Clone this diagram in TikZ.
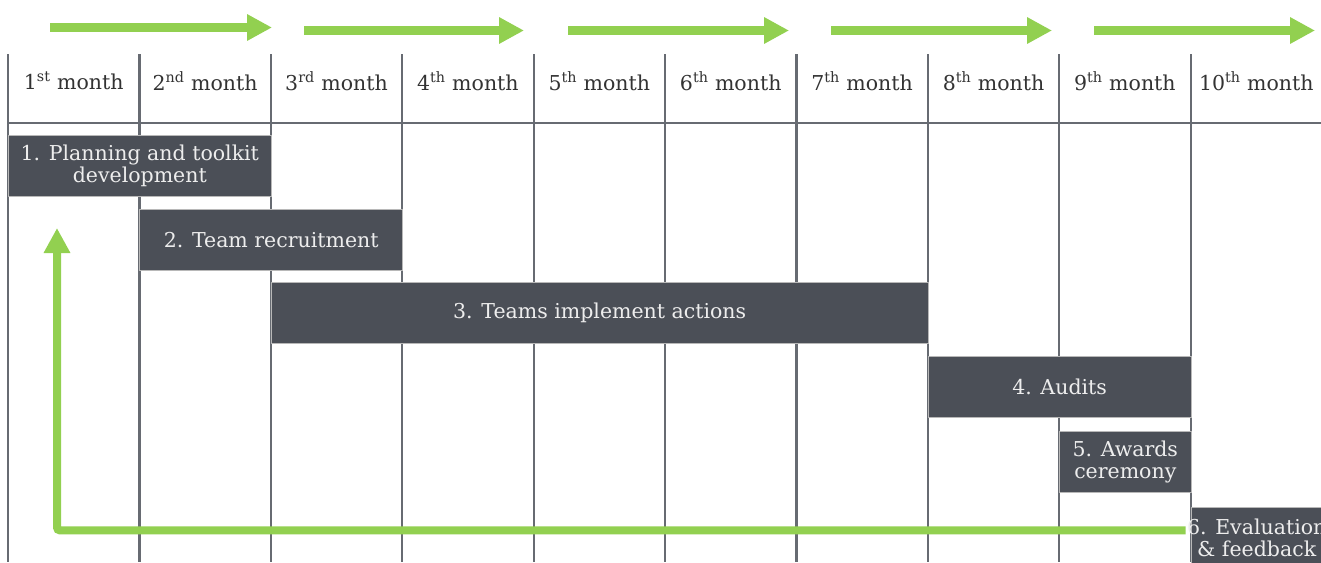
\documentclass[tikz,border=0pt]{standalone}
\usepackage{fontspec}
\setmainfont{DejaVu Serif}
\usetikzlibrary{arrows.meta}
\definecolor{barcol}{HTML}{4B4F57}
\definecolor{gridcol}{HTML}{676B72}
\definecolor{leafgreen}{HTML}{92D050}
\tikzset{
	grid/.style={draw=gridcol, line width=2.2pt},
	month/.style={text=black!80, font=\fontsize{20.5}{23}\selectfont, inner sep=0pt},
	bar/.style={rectangle, fill=barcol, draw=white!72!black, line width=0.8pt, text=white!93!black,
		font=\fontsize{20.5}{22.5}\selectfont, align=center, inner sep=0pt, anchor=north west, minimum height=61pt},
	flow/.style={leafgreen, line width=9pt, -{Triangle[length=25pt,width=25pt]}},
	feedback/.style={leafgreen, line width=8pt, rounded corners=3pt, -{Triangle[length=25pt,width=25pt]}}
}
\begin{document}
\begin{tikzpicture}[x=1pt,y=-1pt]
			%%%%% START %%%%%
			\useasboundingbox (0,0) rectangle (1321,562);
			\clip (0,0) rectangle (1321,562);
			\fill[white] (0,0) rectangle (1321,562);
			
			% arrows on top
			\foreach \xa/\xb/\yy in {50/272/27.5, 304/524/30.5, 568/789/30.5, 831/1052/30.5, 1094/1315/30.5}
				\draw[flow] (\xa,\yy) -- (\xb,\yy);
			
			% grid
			\foreach \i in {0,...,10}
				\draw[grid] ({8+131.4*\i},54) -- ({8+131.4*\i},562);
			\draw[grid] (8,123) -- (1322,123);
			
			% months
			\foreach \i/\s in {1/st,2/nd,3/rd,4/th,5/th,6/th,7/th,8/th,9/th,10/th}
				\node[month] (m\i) at ({8+131.4*(\i-0.5)},81) {\i\textsuperscript{\s} month};
			
			% tasks
			\node[bar, minimum width=262.8pt] (plan) at (8,135) {1. Planning and toolkit\\development};
			\node[bar, minimum width=262.8pt] (recruit) at (139.4,209) {2. Team recruitment};
			\node[bar, minimum width=657pt] (implement) at (270.8,282) {3. Teams implement actions};
			\node[bar, minimum width=262.8pt] (audits) at (927.8,355.5) {4. Audits};
			\node[bar, minimum width=131.4pt] (awards) at (1059.2,431) {5. Awards\\ceremony};
			\node[bar, minimum width=131.4pt] (evaluation) at (1190.6,507) {\makebox[0pt]{6. Evaluation}\\\makebox[0pt]{\& feedback}};
			
			% back to the start
			\coordinate (restart) at (57,228);
			\draw[feedback] ([shift={(-5,-7.5)}]evaluation.west) -| (restart);
			%%%%% END %%%%%
\end{tikzpicture}
\end{document}
